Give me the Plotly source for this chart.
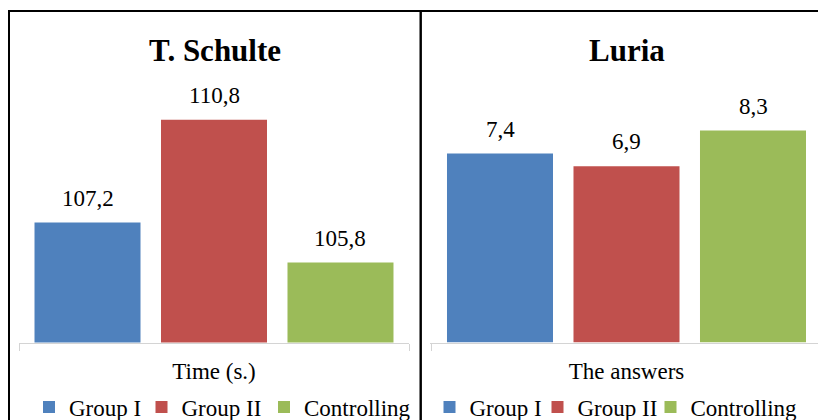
import plotly.graph_objects as go

# ---- data ----
series = ["Group I", "Group II", "Controlling"]
colors = ["#4F81BD", "#C0504D", "#9BBB59"]
schulte_values = [107.2, 110.8, 105.8]
luria_values = [7.4, 6.9, 8.3]
schulte_category = ["Time (s.)"]
luria_category = ["The answers"]
panel_titles = ["T. Schulte", "Luria"]

W, H = 818, 420
FONT = "Liberation Serif"
BARGAP = 0.027
BARGROUPGAP = 0.162
# legend entry widths (layout only)
left_entry_w = [67.5, 77.5, 120]
right_entry_w = [63, 68, 120]

fig = go.Figure()

for i, (name, col) in enumerate(zip(series, colors)):
    fig.add_trace(go.Bar(x=schulte_category, y=[schulte_values[i]], name=name,
                         marker=dict(color=col, line=dict(width=0)),
                         legendwidth=left_entry_w[i],
                         xaxis="x", yaxis="y", legend="legend"))
for i, (name, col) in enumerate(zip(series, colors)):
    fig.add_trace(go.Bar(x=luria_category, y=[luria_values[i]], name=name,
                         marker=dict(color=col, line=dict(width=0)),
                         legendwidth=right_entry_w[i],
                         xaxis="x2", yaxis="y2", legend="legend2"))

# data labels (positioned from data + grouping parameters)
slot = (1 - BARGAP) / len(series)
ann = []
for xref, yref, vals in [("x", "y", schulte_values), ("x2", "y2", luria_values)]:
    for i, v in enumerate(vals):
        ann.append(dict(x=(i - (len(vals) - 1) / 2) * slot, y=v, xref=xref, yref=yref,
                        text=f"{v:.1f}".replace(".", ","), showarrow=False,
                        yanchor="middle", yshift=24.5,
                        font=dict(family=FONT, size=23, color="black")))

# panel titles
for t, cx in zip(panel_titles, [215.5, 626.5]):
    ann.append(dict(x=cx / W, y=1 - 50 / H, xref="paper", yref="paper", text=f"<b>{t}</b>",
                    showarrow=False, xanchor="center", yanchor="middle",
                    font=dict(family=FONT, size=31, color="black")))

ydom = [1 - 342.5 / H, 1 - 100 / H]
axis_common = dict(showline=True, linecolor="#d4d4d4", linewidth=1, ticks="outside",
                   tickson="boundaries", ticklen=7, tickcolor="#d4d4d4", tickwidth=1,
                   ticklabelstandoff=8, showgrid=False, zeroline=False,
                   tickfont=dict(family=FONT, size=23, color="black"), fixedrange=True)
yaxis_common = dict(visible=False, showgrid=False, zeroline=False, domain=ydom)

legend_common = dict(orientation="h", y=13 / H, yanchor="middle",
                     font=dict(family=FONT, size=23, color="black"),
                     bgcolor="rgba(0,0,0,0)", borderwidth=0)

fig.update_layout(
    width=W, height=H,
    margin=dict(l=0, r=0, t=0, b=0, pad=0, autoexpand=False),
    paper_bgcolor="white", plot_bgcolor="white",
    barmode="group", bargap=BARGAP, bargroupgap=BARGROUPGAP,
    separators=",.",
    xaxis=dict(domain=[19 / W, 409 / W], range=[-0.5, 0.5], anchor="y", **axis_common),
    yaxis=dict(range=[103, 111.494], anchor="x", **yaxis_common),
    xaxis2=dict(domain=[430 / W, 1], range=[-0.5038, 0.491], anchor="y2", **axis_common),
    yaxis2=dict(range=[0, 9.499], anchor="x2", **yaxis_common),
    legend=dict(x=29 / W, xanchor="left", **legend_common),
    legend2=dict(x=429.5 / W, xanchor="left", **legend_common),
    annotations=ann,
    shapes=[
        dict(type="rect", xref="paper", yref="paper", x0=9 / W, x1=420.7 / W,
             y0=-0.05, y1=1 - 11 / H, line=dict(color="black", width=2)),
        dict(type="rect", xref="paper", yref="paper", x0=420.7 / W, x1=1.05,
             y0=-0.05, y1=1 - 11 / H, line=dict(color="black", width=2)),
    ],
    showlegend=True,
)

fig.write_html("out.html")
